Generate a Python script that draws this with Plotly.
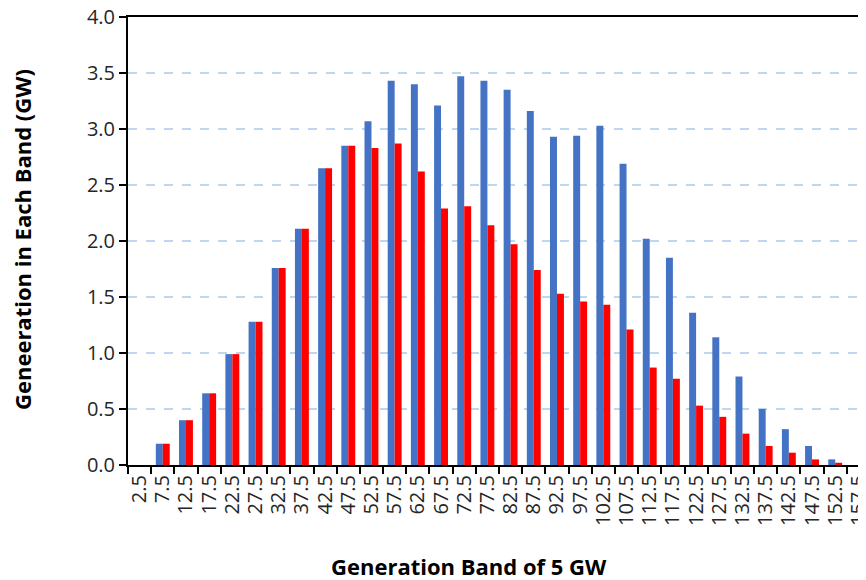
import plotly.graph_objects as go

categories = ["2.5", "7.5", "12.5", "17.5", "22.5", "27.5", "32.5", "37.5", "42.5", "47.5",
              "52.5", "57.5", "62.5", "67.5", "72.5", "77.5", "82.5", "87.5", "92.5", "97.5",
              "102.5", "107.5", "112.5", "117.5", "122.5", "127.5", "132.5", "137.5", "142.5",
              "147.5", "152.5", "157.5"]
blue_values = [0.0, 0.19, 0.40, 0.64, 0.99, 1.28, 1.76, 2.11, 2.65, 2.85,
               3.07, 3.43, 3.40, 3.21, 3.47, 3.43, 3.35, 3.16, 2.93, 2.94,
               3.03, 2.69, 2.02, 1.85, 1.36, 1.14, 0.79, 0.50, 0.32, 0.17, 0.05, 0.0]
red_values = [0.0, 0.19, 0.40, 0.64, 0.99, 1.28, 1.76, 2.11, 2.65, 2.85,
              2.83, 2.87, 2.62, 2.29, 2.31, 2.14, 1.97, 1.74, 1.53, 1.46,
              1.43, 1.21, 0.87, 0.77, 0.53, 0.43, 0.28, 0.17, 0.11, 0.05, 0.02, 0.0]
y_ticks = [0.0, 0.5, 1.0, 1.5, 2.0, 2.5, 3.0, 3.5, 4.0]

FONT = "Open Sans"
OFF = 8  # page body margin offset
TICK_COLOR = "#262626"

fig = go.Figure()
fig.add_trace(go.Bar(x=categories, y=blue_values, marker=dict(color="#4472C4", line=dict(width=0)), name="A"))
fig.add_trace(go.Bar(x=categories, y=red_values, marker=dict(color="#FF0000", line=dict(width=0)), name="B"))

W, H = 866, 580
L, T, R = 128 - OFF, 17 - OFF, 4
PB = 465 - OFF  # plot bottom in figure coords
B = H - PB
PW, PH = W - L - R, PB - T
fig.update_layout(
    width=W, height=H,
    margin=dict(l=L, r=R, t=T, b=B, pad=0, autoexpand=False),
    paper_bgcolor="white", plot_bgcolor="white",
    barmode="group", bargap=0.4, bargroupgap=0,
    showlegend=False,
    font=dict(family=FONT, color="#000000"),
)
fig.update_xaxes(
    type="category", range=[-0.5, 31.5], automargin=False,
    tickmode="linear", tick0=0, dtick=1,
    showline=True, linecolor="black", linewidth=2, mirror=True,
    ticks="outside", tickson="boundaries", ticklen=7, tickwidth=2, tickcolor="black",
    tickangle=-90, tickfont=dict(size=20, family=FONT, color=TICK_COLOR),
    ticklabeloverflow="allow",
    showgrid=False, zeroline=False,
)
fig.update_yaxes(
    range=[0, 4.0], tickvals=y_ticks, ticktext=[f"{v:.1f}" for v in y_ticks], automargin=False,
    showline=True, linecolor="black", linewidth=2,
    ticks="outside", ticklen=7, tickwidth=2, tickcolor="black",
    tickfont=dict(size=20, family=FONT, color=TICK_COLOR),
    ticklabeloverflow="allow",
    showgrid=True, gridcolor="#BDD7EE", gridwidth=2, griddash="dash",
    zeroline=False,
)
fig.add_annotation(
    text="<b>Geneeration in Each Band (GW)</b>", textangle=-90,
    xref="paper", yref="paper", x=(22 - OFF - L) / PW, y=(PB - (240 - OFF)) / PH,
    xanchor="center", yanchor="middle", showarrow=False,
    font=dict(size=22, family=FONT, color="#000000"),
)
fig.add_annotation(
    text="<b>Generation Band of 5 GW</b>",
    xref="paper", yref="paper", x=(469 - OFF - L) / PW, y=-((566 - OFF) - PB) / PH,
    xanchor="center", yanchor="middle", showarrow=False,
    font=dict(size=22, family=FONT, color="#000000"),
)
fig.write_html("out.html")
